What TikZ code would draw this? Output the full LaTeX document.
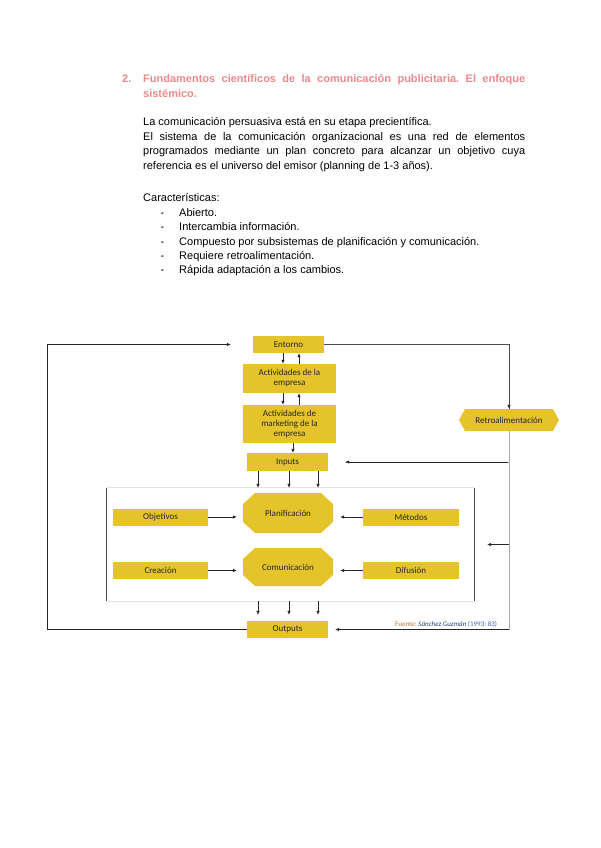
\documentclass[tikz,border=0pt]{standalone}
\usepackage{fontspec}
\setmainfont{Liberation Sans}
\newfontfamily\carlito{Carlito}
\usetikzlibrary{arrows.meta,shapes.symbols}

\definecolor{oro}{RGB}{228,196,42}
\definecolor{rosa}{RGB}{234,138,140}
\definecolor{lineagris}{RGB}{170,170,170}
\definecolor{marcogris}{RGB}{225,225,225}
\definecolor{fuentemarron}{RGB}{176,118,60}
\definecolor{fuenteazul}{RGB}{40,60,120}
\definecolor{fuenteceleste}{RGB}{60,100,170}

\tikzset{
  caja/.style={rectangle,fill=oro,inner sep=1pt,align=center,
    font=\carlito\fontsize{9}{10}\selectfont,text=black!85},
  octo/.style={rectangle,inner sep=1pt,minimum width=90pt,
    font=\carlito\fontsize{9}{10}\selectfont,text=black!85,
    path picture={\fill[oro]
      ([xshift=12pt]path picture bounding box.north west) --
      ([xshift=-12pt]path picture bounding box.north east) --
      ([yshift=-11pt]path picture bounding box.north east) --
      ([yshift=11pt]path picture bounding box.south east) --
      ([xshift=-12pt]path picture bounding box.south east) --
      ([xshift=12pt]path picture bounding box.south west) --
      ([yshift=11pt]path picture bounding box.south west) --
      ([yshift=-11pt]path picture bounding box.north west) -- cycle;}},
  hexa/.style={signal,signal to=west and east,signal pointer angle=122,
    fill=oro,inner sep=1pt,minimum width=100pt,minimum height=22pt,
    font=\carlito\fontsize{9}{10}\selectfont,text=black!85},
  texto/.style={anchor=base west,inner sep=0pt,font=\fontsize{11}{14.8}\selectfont},
  flecha/.style={-{Latex[length=4pt,width=3.6pt]},line width=0.7pt,black!85},
  linea/.style={line width=0.8pt,black!70}
}

\begin{document}
\frenchspacing
\begin{tikzpicture}[x=1pt,y=-1pt]
\fill[white] (0,0) rectangle (600,848);
\useasboundingbox (0,0) rectangle (600,848);

% encabezado y texto
\node[texto,font=\bfseries\fontsize{11}{15}\selectfont,text=rosa] (num) at (122,83) {2.};
\node[texto,font=\bfseries\fontsize{11}{15}\selectfont,text=rosa,text width=382pt,align=justify] (titulo) at (143,83)
  {Fundamentos científicos de la comunicación publicitaria. El enfoque\linebreak sistémico.};
\node[texto,text width=382pt,align=justify] (parrafo) at (143,125.3)
  {La comunicación persuasiva está en su etapa precientífica.\\
   El sistema de la comunicación organizacional es una red de elementos\linebreak
   programados mediante un plan concreto para alcanzar un objetivo cuya\linebreak
   referencia es el universo del emisor (planning de 1-3 años).};
\node[texto] (carac) at (143,201.7) {Características:};
\node[texto] (guion1) at (160.5,216) {-};
\node[texto] (item1) at (179,216) {Abierto.};
\node[texto] (guion2) at (160.5,230.6) {-};
\node[texto] (item2) at (179,230.6) {Intercambia información.};
\node[texto] (guion3) at (160.5,245.1) {-};
\node[texto] (item3) at (179,245.1) {Compuesto por subsistemas de planificación y comunicación.};
\node[texto] (guion4) at (160.5,259.5) {-};
\node[texto] (item4) at (179,259.5) {Requiere retroalimentación.};
\node[texto] (guion5) at (160.5,273.8) {-};
\node[texto] (item5) at (179,273.8) {Rápida adaptación a los cambios.};

% diagrama
\node[caja,minimum width=71pt,minimum height=17pt] (entorno) at (288.5,344.5) {Entorno};
\node[caja,minimum width=93pt,minimum height=29pt] (actividades) at (289.5,378.5) {Actividades de la\\empresa};
\node[caja,minimum width=93pt,minimum height=38pt] (marketing) at (289.5,424) {Actividades de\\marketing de la\\empresa};
\node[caja,minimum width=81pt,minimum height=18pt] (inputs) at (287.5,462) {Inputs};
\node[minimum width=367pt,minimum height=113pt,inner sep=0pt] (marco) at (290.5,544.5) {};
\node[octo,minimum height=40pt] (planif) at (288,513) {Planificación};
\node[octo,minimum height=38pt] (comunic) at (288,567) {Comunicación};
\node[caja,minimum width=95pt,minimum height=17pt] (objetivos) at (160.5,517) {Objetivos};
\node[caja,minimum width=95pt,minimum height=17pt] (creacion) at (160.5,570.5) {Creación};
\node[caja,minimum width=96pt,minimum height=17pt] (metodos) at (411,517) {Métodos};
\node[caja,minimum width=96pt,minimum height=17pt] (difusion) at (411,570.5) {Difusión};
\node[caja,minimum width=81pt,minimum height=17pt] (outputs) at (287.5,629.5) {Outputs};
\node[hexa] (retro) at (509,420) {Retroalimentación};
\node[anchor=base west,inner sep=0pt,font=\carlito\fontsize{7}{8}\selectfont] (fuente) at (395,626)
  {\textcolor{fuentemarron}{Fuente:} \textcolor{fuenteazul}{\itshape Sánchez Guzmán} \textcolor{fuenteceleste}{(1993: 83)}};
\coordinate (izq) at (47,0);

% marco del sistema
\draw[marcogris,line width=0.8pt] (marco.north west) -- (marco.north east);
\draw[marcogris,line width=0.8pt] (marco.south west) -- (marco.south east);
\draw[linea] (marco.north west) -- (marco.south west);
\draw[linea] (marco.north east) -- (marco.south east);

% flechas verticales
\draw[flecha] ([xshift=-5.5pt]entorno.south) -- ([xshift=-6.5pt]actividades.north);
\draw[flecha] ([xshift=9.5pt]actividades.north) -- ([xshift=10.5pt]entorno.south);
\draw[flecha] ([xshift=-6.5pt]actividades.south) -- ([xshift=-6.5pt]marketing.north);
\draw[flecha] ([xshift=9.5pt]marketing.north) -- ([xshift=9.5pt]actividades.south);
\draw[flecha] ([xshift=3.5pt]marketing.south) -- ([xshift=5.5pt]inputs.north);
\draw[flecha] ([xshift=-29.5pt]inputs.south) -- ([xshift=-29.5pt]inputs.south |- marco.north);
\draw[flecha] ([xshift=1.5pt]inputs.south) -- ([xshift=1.5pt]inputs.south |- marco.north);
\draw[flecha] ([xshift=30.5pt]inputs.south) -- ([xshift=30.5pt]inputs.south |- marco.north);
\draw[flecha,shorten >=6pt] ([xshift=-29.5pt]outputs.north |- marco.south) -- ([xshift=-29.5pt]outputs.north);
\draw[flecha,shorten >=6pt] ([xshift=1.5pt]outputs.north |- marco.south) -- ([xshift=1.5pt]outputs.north);
\draw[flecha,shorten >=6pt] ([xshift=30.5pt]outputs.north |- marco.south) -- ([xshift=30.5pt]outputs.north);

% flechas horizontales
\draw[flecha,shorten >=6pt] (objetivos.east) -- (objetivos.east -| planif.west);
\draw[flecha,shorten >=6pt] (creacion.east) -- (creacion.east -| comunic.west);
\draw[flecha,shorten >=7pt] (metodos.west) -- (metodos.west -| planif.east);
\draw[flecha,shorten >=7pt] (difusion.west) -- (difusion.west -| comunic.east);

% realimentacion
\draw[flecha,shorten >=22pt] (outputs.west) -- (outputs.west -| izq) |- (entorno.west);
\draw[linea] (entorno.east) -| (retro.north);
\draw[flecha] ([yshift=2pt]retro.north) -- (retro.north);
\draw[lineagris,line width=0.8pt] (retro.south) -- (retro.south |- outputs.east);
\draw[flecha,shorten >=7pt] (retro.south |- outputs.east) -- (outputs.east);
\draw[lineagris,line width=0.8pt] (retro.south |- inputs.east) -- ([xshift=17pt]inputs.east);
\draw[flecha,shorten >=17pt] ([xshift=-1pt]retro.south |- inputs.east) -- (inputs.east);
\draw[flecha,shorten >=13pt] (retro.south |- marco.east) -- (marco.east);
\end{tikzpicture}
\end{document}
